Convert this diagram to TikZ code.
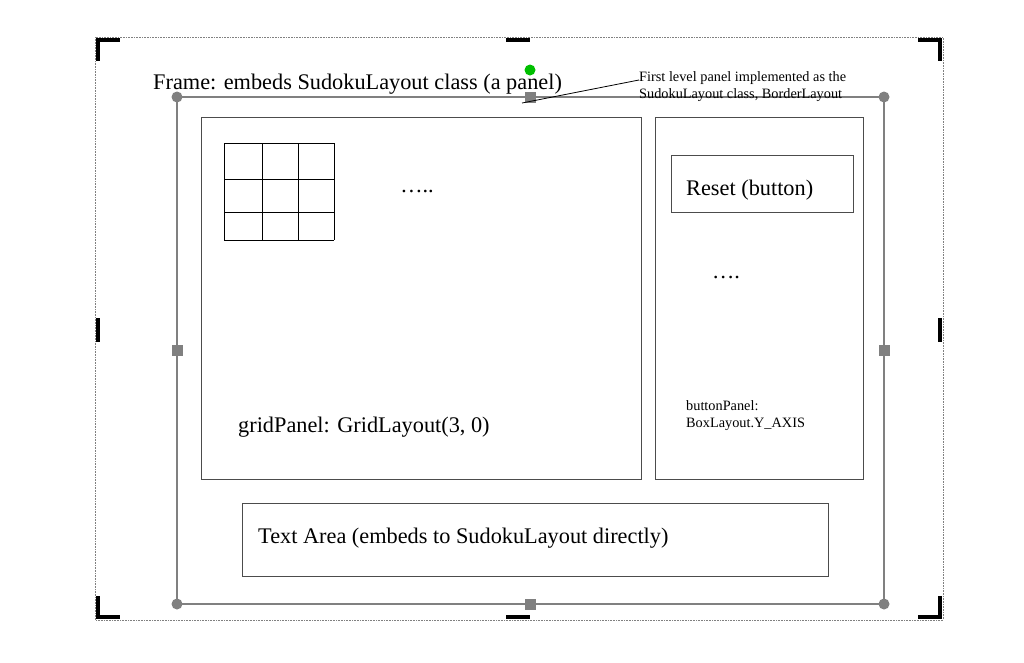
\documentclass[tikz,border=0pt]{standalone}
\usepackage{fontspec}
\setmainfont{Liberation Serif}
\begin{document}
\begin{tikzpicture}[x=1pt,y=-1pt,
  box/.style={draw=black!70,line width=1pt},
  big/.style={font=\fontsize{22.3}{25}\selectfont,inner sep=0pt},
  small/.style={font=\fontsize{14.3}{17}\selectfont,inner sep=0pt,align=left},
  brk/.style={line width=4pt},
  hround/.style={circle,fill=gray,inner sep=0pt,minimum size=11pt},
  hsq/.style={rectangle,fill=gray,inner sep=0pt,minimum size=11pt}]
\useasboundingbox (0,0) rectangle (1024,662);
\draw[gray,densely dotted,line width=0.6pt] (95,37) rectangle (943,620);
% brackets
\draw[brk] (98,61)--(98,40)--(120,40);
\draw[brk] (918,40)--(940,40)--(940,61);
\draw[brk] (98,596)--(98,617)--(120,617);
\draw[brk] (918,617)--(940,617)--(940,596);
\draw[brk] (506,40)--(530,40);
\draw[brk] (506,617)--(530,617);
\draw[brk] (98,318)--(98,342);
\draw[brk] (940,318)--(940,342);
% main frame
\draw[gray,line width=1.2pt] (177,97) rectangle (884,604);
\node[hround] (c1) at (177,97) {};
\node[hround] (c2) at (884,97) {};
\node[hround] (c3) at (177,604) {};
\node[hround] (c4) at (884,604) {};
\node[hsq] (mt) at (530,97) {};
\node[hsq] (mb) at (530,604) {};
\node[hsq] (ml) at (177,350) {};
\node[hsq] (mr) at (884,350) {};
\node[circle,fill=green!75!black,inner sep=0pt,minimum size=11pt] (rot) at (530,70) {};
\node[big,anchor=base west] (frame) at (153,89) {Frame: embeds SudokuLayout class (a panel)};
% callout
\node[small,anchor=north west] (call) at (639,71) {First level panel implemented as the\\SudokuLayout class, BorderLayout};
\coordinate (calltip) at (522,103);
\draw[line width=0.8pt] (calltip) -- (call.north west |- 0,80);
% grid panel
\draw[box] (201,117) rectangle (641,479);
\foreach \x in {224,262,298,334} \draw[line width=0.8pt] (\x,143)--(\x,240);
\foreach \y in {143,179,212,240} \draw[line width=0.8pt] (224,\y)--(334,\y);
\node[big] (dots1) at (417,191) {…..};
\node[big,anchor=base west] (gp) at (238,432) {gridPanel: GridLayout(3, 0)};
% button panel
\draw[box] (655,117) rectangle (863,479);
\node[box,minimum width=182pt,minimum height=57pt,anchor=north west] (reset) at (671,155) {};
\node[big,anchor=west] (resettxt) at (686,190) {Reset (button)};
\node[big] (dots2) at (726,277) {….};
\node[small,anchor=north west] (bp) at (686,400) {buttonPanel:\\BoxLayout.Y\_AXIS};
% text area
\node[box,minimum width=586pt,minimum height=73pt,anchor=north west] (ta) at (242,503) {};
\node[big,anchor=west] (tatxt) at (258,538) {Text Area (embeds to SudokuLayout directly)};
\end{tikzpicture}
\end{document}
